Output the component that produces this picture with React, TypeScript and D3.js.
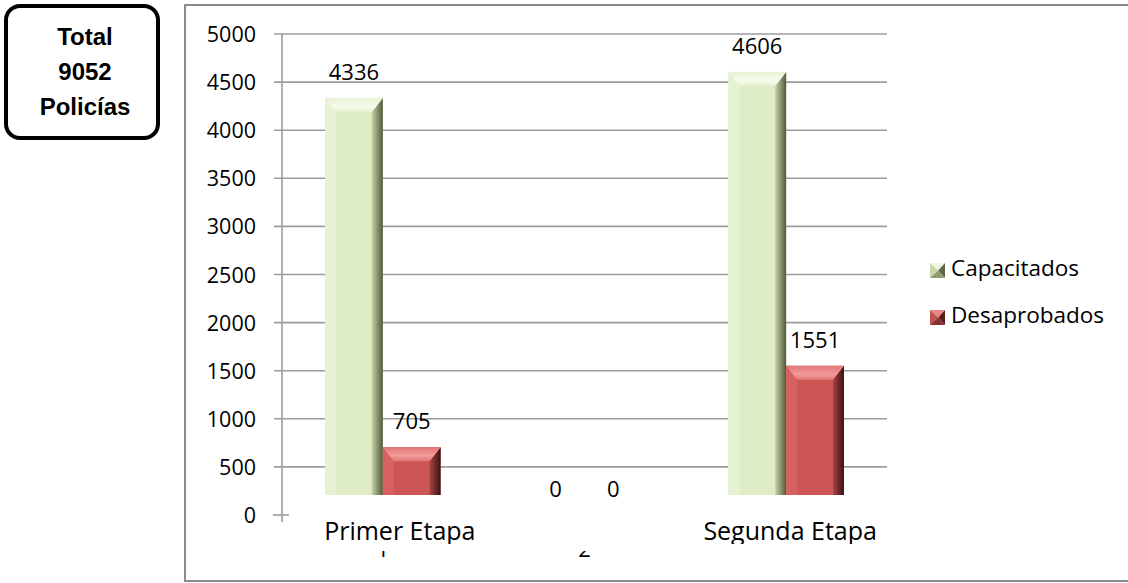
import React from "react";
import * as d3 from "d3";

const categories = ["Primer Etapa", "", "Segunda Etapa"];
const categoryNumbers = ["1", "2", ""];
const seriesNames = ["Capacitados", "Desaprobados"];
const capacitados = [4336, 0, 4606];
const desaprobados = [705, 0, 1551];
const yTicks = [0, 500, 1000, 1500, 2000, 2500, 3000, 3500, 4000, 4500, 5000];
const totalLines = ["Total", "9052", "Policías"];

const W = 1128;
const H = 583;
const FONT = "'Open Sans', 'Noto Sans', sans-serif";

const palettes = [
  {
    main: "#dfedc6",
    left: "#e7f2d4",
    topA: "#f7fbee",
    topB: "#e6f1d2",
    rightA: "#c4d2a7",
    rightB: "#4f5a3c",
    mTop: "#eef5e0",
    mLeft: "#c9d7ad",
    mRight: "#5d6a48",
    mBottom: "#8e9c74",
  },
  {
    main: "#cd5655",
    left: "#d56261",
    topA: "#f39a9a",
    topB: "#e27676",
    rightA: "#a94545",
    rightB: "#3a1111",
    mTop: "#e88585",
    mLeft: "#c25050",
    mRight: "#5c1c1c",
    mBottom: "#8a2e2e",
  },
];

export default function App() {
  const x0 = 282;
  const x1 = 887;
  const y = d3.scaleLinear().domain([0, 5000]).range([515, 34]);
  const xBand = d3
    .scaleBand<string>()
    .domain(categories.map((_, i) => String(i)))
    .range([x0, x1])
    .paddingInner(0.427)
    .paddingOuter(0.2135);
  const xInner = d3
    .scaleBand<string>()
    .domain(seriesNames)
    .range([0, xBand.bandwidth()]);
  const barFloor = y(0) - 20;
  const series = [capacitados, desaprobados];

  const bars: React.ReactNode[] = [];
  const labels: React.ReactNode[] = [];
  series.forEach((vals, si) => {
    vals.forEach((v, ci) => {
      const bx = (xBand(String(ci)) as number) + (xInner(seriesNames[si]) as number);
      const bw = xInner.bandwidth();
      const top = y(v);
      const cx = bx + bw / 2;
      labels.push(
        <text
          key={`l${si}-${ci}`}
          x={cx}
          y={top - 18}
          textAnchor="middle"
          fontFamily={FONT}
          fontSize={22}
          fill="#000"
        >
          {v}
        </text>
      );
      if (v <= 0 || top >= barFloor) return;
      const h = barFloor - top;
      const bt = Math.min(14, h / 2);
      const bs = 11;
      bars.push(
        <g key={`b${si}-${ci}`}>
          <rect x={bx} y={top} width={bw} height={h} fill={palettes[si].main} />
          <polygon
            points={`${bx},${top} ${bx + bs},${top + bt} ${bx + bs},${barFloor} ${bx},${barFloor}`}
            fill={palettes[si].left}
          />
          <polygon
            points={`${bx + bw},${top} ${bx + bw},${barFloor} ${bx + bw - bs},${barFloor} ${bx + bw - bs},${top + bt}`}
            fill={`url(#right${si})`}
          />
          <polygon
            points={`${bx},${top} ${bx + bw},${top} ${bx + bw - bs},${top + bt} ${bx + bs},${top + bt}`}
            fill={`url(#top${si})`}
          />
        </g>
      );
    });
  });

  const legendY = [263, 310];

  return (
    <svg
      width={W}
      height={H}
      style={{ position: "absolute", left: 0, top: 0, background: "#fff" }}
    >
      <defs>
        {palettes.map((p, i) => (
          <React.Fragment key={i}>
            <linearGradient id={`right${i}`} x1="0" y1="0" x2="1" y2="0">
              <stop offset="0%" stopColor={p.rightA} />
              <stop offset="100%" stopColor={p.rightB} />
            </linearGradient>
            <linearGradient id={`top${i}`} x1="0" y1="0" x2="0" y2="1">
              <stop offset="0%" stopColor={p.topB} />
              <stop offset="60%" stopColor={p.topA} />
              <stop offset="100%" stopColor={p.topB} />
            </linearGradient>
          </React.Fragment>
        ))}
        <clipPath id="line1">
          <rect x={0} y={500} width={W} height={44} />
        </clipPath>
        <clipPath id="line2">
          <rect x={0} y={551} width={W} height={10} />
        </clipPath>
      </defs>

      {/* Total box */}
      <rect x={6} y={6} width={152} height={132} rx={14} ry={14} fill="#fff" stroke="#000" strokeWidth={4} />
      {totalLines.map((t, i) => (
        <text
          key={t}
          x={85}
          y={45 + i * 35}
          textAnchor="middle"
          fontFamily="'Liberation Sans', Arial, sans-serif"
          fontWeight="bold"
          fontSize={24}
          fill="#000"
        >
          {t}
        </text>
      ))}

      {/* chart frame */}
      <rect x={185} y={5} width={960} height={576} fill="#fff" stroke="#8c8c8c" strokeWidth={2} />

      {/* gridlines */}
      {yTicks
        .filter((t) => t > 0)
        .map((t) => (
          <line key={`g${t}`} x1={274} x2={x1} y1={y(t)} y2={y(t)} stroke="#9c9c9c" strokeWidth={1.6} />
        ))}
      <line x1={273} x2={289} y1={y(0)} y2={y(0)} stroke="#9c9c9c" strokeWidth={1.6} />
      <line x1={x0} x2={x0} y1={y(5000)} y2={y(0) + 7} stroke="#9c9c9c" strokeWidth={1.6} />

      {/* y tick labels */}
      {yTicks.map((t) => (
        <text
          key={`t${t}`}
          x={256}
          y={y(t) + 8}
          textAnchor="end"
          fontFamily={FONT}
          fontSize={21.5}
          fill="#000"
        >
          {t}
        </text>
      ))}

      {bars}
      {labels}

      {/* category labels */}
      <g clipPath="url(#line1)">
        {categories.map((c, i) => (
          <text
            key={`c${i}`}
            x={(xBand(String(i)) as number) + xBand.bandwidth() / 2 + (i === 0 ? 17 : 4)}
            y={540}
            textAnchor="middle"
            fontFamily={FONT}
            fontSize={25}
            fill="#000"
          >
            {c}
          </text>
        ))}
      </g>
      <g clipPath="url(#line2)">
        {categoryNumbers.map((c, i) => (
          <text
            key={`n${i}`}
            x={(xBand(String(i)) as number) + xBand.bandwidth() / 2}
            y={557}
            textAnchor="middle"
            fontFamily={FONT}
            fontSize={22}
            fill="#000"
          >
            {c}
          </text>
        ))}
      </g>

      {/* legend */}
      {seriesNames.map((s, i) => {
        const lx = 930;
        const ly = legendY[i];
        const sz = 15;
        const mx = lx + sz * 0.55;
        const my = ly + sz * 0.5;
        const p = palettes[i];
        return (
          <g key={s}>
            <polygon points={`${lx},${ly} ${lx + sz},${ly} ${mx},${my}`} fill={p.mTop} />
            <polygon points={`${lx},${ly} ${mx},${my} ${lx},${ly + sz}`} fill={p.mLeft} />
            <polygon points={`${lx + sz},${ly} ${lx + sz},${ly + sz} ${mx},${my}`} fill={p.mRight} />
            <polygon points={`${lx},${ly + sz} ${lx + sz},${ly + sz} ${mx},${my}`} fill={p.mBottom} />
            <text x={951} y={ly + 13} fontFamily={FONT} fontSize={22.5} fill="#000">
              {s}
            </text>
          </g>
        );
      })}
    </svg>
  );
}
